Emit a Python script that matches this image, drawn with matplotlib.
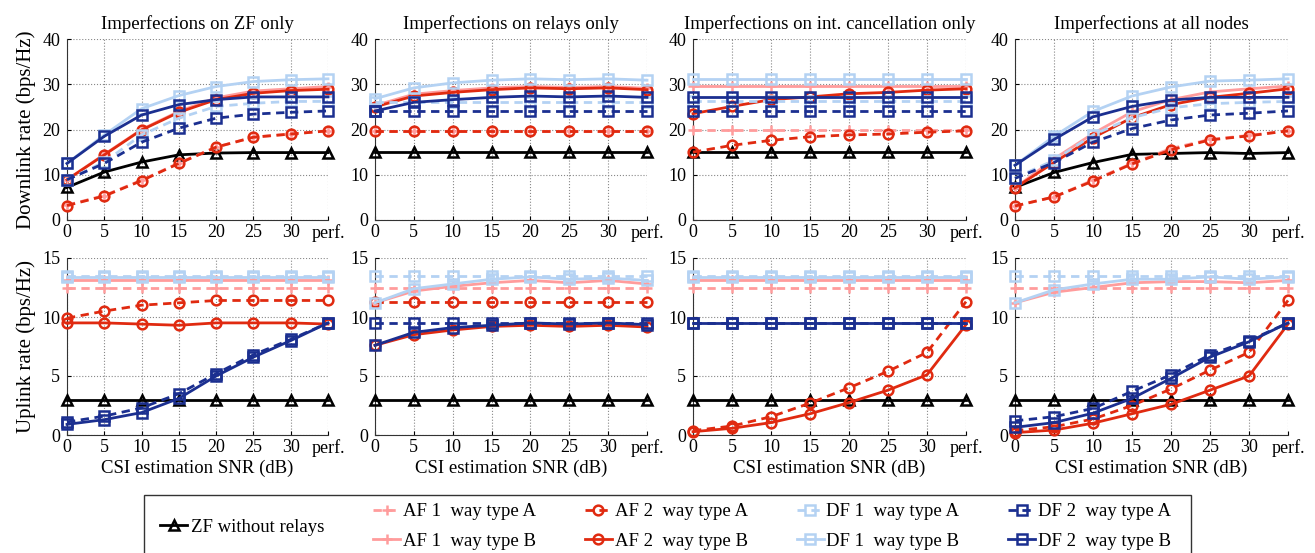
import matplotlib
matplotlib.use("Agg")
import matplotlib.pyplot as plt
from matplotlib.patches import Rectangle

plt.rcParams['font.family'] = ['Liberation Serif', 'DejaVu Serif']

# --- data ---
x_labels = ['0', '5', '10', '15', '20', '25', '30', 'perf.']
titles = ['Imperfections on ZF only', 'Imperfections on relays only',
          'Imperfections on int. cancellation only', 'Imperfections at all nodes']

# downlink (bps/Hz)
dl_zf_only = {
    'ZF':   [7.2, 10.6, 12.8, 14.4, 14.8, 14.9, 14.9, 14.9],
    'AF1A': [3.3, 5.4, 8.8, 12.6, 16.1, 18.3, 19.0, 19.7],
    'AF1B': [8.9, 14.5, 20.0, 24.0, 27.0, 28.5, 29.0, 29.5],
    'AF2A': [3.2, 5.3, 8.7, 12.5, 16.1, 18.3, 19.0, 19.7],
    'AF2B': [8.9, 14.4, 19.9, 23.8, 26.6, 28.0, 28.6, 28.9],
    'DF1A': [8.9, 12.8, 18.8, 22.5, 25.1, 25.8, 26.2, 26.2],
    'DF1B': [12.5, 18.8, 24.6, 27.5, 29.5, 30.6, 31.0, 31.2],
    'DF2A': [8.9, 12.5, 17.2, 20.3, 22.5, 23.4, 23.8, 24.1],
    'DF2B': [12.5, 18.5, 23.2, 25.5, 26.6, 27.2, 27.2, 27.2],
}
dl_relays_only = {
    'ZF':   [15.0] * 8,
    'AF1A': [19.7] * 8,
    'AF1B': [25.3, 27.8, 28.6, 29.2, 29.5, 29.3, 29.5, 29.1],
    'AF2A': [19.7] * 8,
    'AF2B': [25.0, 27.4, 28.2, 28.8, 29.2, 29.0, 29.2, 28.8],
    'DF1A': [26.1] * 8,
    'DF1B': [26.8, 29.2, 30.3, 30.9, 31.2, 31.0, 31.2, 30.9],
    'DF2A': [24.0] * 8,
    'DF2B': [24.1, 26.0, 26.6, 27.1, 27.4, 27.2, 27.4, 27.1],
}
dl_ic_only = {
    'ZF':   [15.0] * 8,
    'AF1A': [19.9] * 8,
    'AF1B': [29.6] * 8,
    'AF2A': [15.0, 16.5, 17.6, 18.4, 18.8, 19.0, 19.4, 19.7],
    'AF2B': [23.5, 25.1, 26.6, 27.2, 27.9, 28.2, 28.7, 29.0],
    'DF1A': [26.4] * 8,
    'DF1B': [31.2] * 8,
    'DF2A': [24.1] * 8,
    'DF2B': [27.2] * 8,
}
dl_all = {
    'ZF':   [7.2, 10.5, 12.7, 14.5, 14.7, 14.9, 14.7, 14.9],
    'AF1A': [3.1, 5.1, 8.8, 12.5, 15.8, 17.8, 18.7, 19.7],
    'AF1B': [7.1, 13.5, 19.1, 23.9, 26.6, 28.3, 29.0, 29.6],
    'AF2A': [3.1, 5.1, 8.6, 12.4, 15.5, 17.7, 18.6, 19.7],
    'AF2B': [7.1, 12.7, 18.2, 22.6, 25.5, 27.1, 28.0, 29.0],
    'DF1A': [9.3, 13.2, 18.8, 22.6, 24.8, 25.7, 26.0, 26.2],
    'DF1B': [12.1, 18.5, 24.0, 27.4, 29.4, 30.7, 30.9, 31.2],
    'DF2A': [9.2, 12.7, 17.2, 20.2, 22.1, 23.2, 23.6, 24.1],
    'DF2B': [12.1, 17.8, 22.8, 25.1, 26.5, 27.1, 27.1, 27.1],
}

# uplink (bps/Hz)
ul_zf_only = {
    'ZF':   [3.0] * 8,
    'AF1A': [12.5] * 8,
    'AF1B': [13.1] * 8,
    'AF2A': [9.9, 10.5, 11.0, 11.2, 11.4, 11.4, 11.4, 11.4],
    'AF2B': [9.5, 9.5, 9.4, 9.3, 9.5, 9.5, 9.5, 9.4],
    'DF1A': [13.5] * 8,
    'DF1B': [13.35] * 8,
    'DF2A': [1.1, 1.6, 2.3, 3.5, 5.2, 6.8, 8.1, 9.5],
    'DF2B': [0.9, 1.3, 1.9, 3.1, 5.0, 6.6, 8.0, 9.5],
}
ul_relays_only = {
    'ZF':   [3.0] * 8,
    'AF1A': [12.5] * 8,
    'AF1B': [11.2, 12.2, 12.6, 12.9, 13.1, 12.9, 13.1, 12.8],
    'AF2A': [11.25] * 8,
    'AF2B': [7.6, 8.5, 8.9, 9.2, 9.3, 9.2, 9.3, 9.15],
    'DF1A': [13.5] * 8,
    'DF1B': [11.2, 12.4, 12.8, 13.2, 13.4, 13.2, 13.3, 13.1],
    'DF2A': [9.45] * 8,
    'DF2B': [7.6, 8.7, 9.1, 9.3, 9.5, 9.4, 9.5, 9.35],
}
ul_ic_only = {
    'ZF':   [3.0] * 8,
    'AF1A': [12.5] * 8,
    'AF1B': [13.1] * 8,
    'AF2A': [0.37, 0.76, 1.55, 2.7, 4.0, 5.4, 7.0, 11.3],
    'AF2B': [0.28, 0.57, 1.05, 1.8, 2.75, 3.8, 5.1, 9.35],
    'DF1A': [13.5] * 8,
    'DF1B': [13.35] * 8,
    'DF2A': [9.5] * 8,
    'DF2B': [9.45] * 8,
}
ul_all = {
    'ZF':   [3.0] * 8,
    'AF1A': [12.5] * 8,
    'AF1B': [11.2, 12.1, 12.5, 12.9, 13.0, 13.0, 12.9, 13.1],
    'AF2A': [0.37, 0.7, 1.35, 2.5, 3.9, 5.5, 7.0, 11.4],
    'AF2B': [0.2, 0.42, 1.0, 1.8, 2.6, 3.8, 5.0, 9.4],
    'DF1A': [13.5] * 8,
    'DF1B': [11.2, 12.3, 12.8, 13.2, 13.2, 13.4, 13.2, 13.4],
    'DF2A': [1.2, 1.55, 2.25, 3.7, 5.1, 6.8, 8.0, 9.5],
    'DF2B': [0.65, 1.05, 1.85, 3.1, 4.8, 6.6, 7.9, 9.5],
}

downlink = [dl_zf_only, dl_relays_only, dl_ic_only, dl_all]
uplink = [ul_zf_only, ul_relays_only, ul_ic_only, ul_all]

# --- styles ---
PINK, RED, LBLUE, NAVY = '#ff9c9c', '#e02a10', '#b4d2f3', '#1b2f90'
styles = {
    'ZF':   dict(color='black', ls='-', marker='^', label='ZF without relays'),
    'AF1A': dict(color=PINK, ls='--', marker='+', label='AF 1  way type A'),
    'AF1B': dict(color=PINK, ls='-', marker='+', label='AF 1  way type B'),
    'AF2A': dict(color=RED, ls='--', marker='o', label='AF 2  way type A'),
    'AF2B': dict(color=RED, ls='-', marker='o', label='AF 2  way type B'),
    'DF1A': dict(color=LBLUE, ls='--', marker='s', label='DF 1  way type A'),
    'DF1B': dict(color=LBLUE, ls='-', marker='s', label='DF 1  way type B'),
    'DF2A': dict(color=NAVY, ls='--', marker='s', label='DF 2  way type A'),
    'DF2B': dict(color=NAVY, ls='-', marker='s', label='DF 2  way type B'),
}
order = ['ZF', 'AF1A', 'AF1B', 'AF2A', 'AF2B', 'DF1A', 'DF1B', 'DF2A', 'DF2B']

W, H = 1315, 553
fig = plt.figure(figsize=(W / 100, H / 100), dpi=100)

col_left = [67, 375, 693, 1015]
col_width = [261, 272, 273, 273]
rows = [(220, 181, 40, [0, 10, 20, 30, 40], downlink, 'Downlink rate (bps/Hz)'),
        (435, 177, 15, [0, 5, 10, 15], uplink, 'Uplink rate (bps/Hz)')]

handles = {}
for r, (bot, hgt, ymax, yticks, panels, ylabel) in enumerate(rows):
    for c in range(4):
        ax = fig.add_axes([col_left[c] / W, (H - bot) / H, col_width[c] / W, hgt / H])
        xs = list(range(len(x_labels)))
        for key in order:
            st = styles[key]
            ln, = ax.plot(xs, panels[c][key], color=st['color'], ls=st['ls'],
                          marker=st['marker'], lw=2.0, ms=7, mew=1.8,
                          mfc='none', dashes=(3, 2) if st['ls'] == '--' else (None, None),
                          label=st['label'], clip_on=False, zorder=3)
            handles[key] = ln
        ax.set_xlim(0, 7)
        ax.set_ylim(0, ymax)
        ax.set_xticks(xs)
        ax.set_xticklabels(x_labels)
        ax.set_yticks(yticks)
        ax.tick_params(direction='in', labelsize=13, length=3)
        ax.tick_params(axis='x', pad=3)
        ax.tick_params(axis='y', pad=5)
        ax.grid(True, ls=':', color='#888888', lw=0.8)
        ax.spines['top'].set_visible(False)
        ax.spines['right'].set_visible(False)
        ax.spines['left'].set_color('#333333')
        ax.spines['bottom'].set_color('#333333')
        if r == 0:
            ax.set_title(titles[c], fontsize=13.5, pad=7)
        else:
            ax.set_xlabel('CSI estimation SNR (dB)', fontsize=13.5, labelpad=2)
        if c == 0:
            ax.set_ylabel(ylabel, fontsize=15, labelpad=4)

# legend box
fig.add_artist(Rectangle((144 / W, -0.2), (1191 - 144) / W, (H - 495) / H + 0.2,
                         transform=fig.transFigure, fill=False, lw=1.0, ec='#333333'))
fig.legend([handles['ZF']], [styles['ZF']['label']], loc='center left',
           bbox_to_anchor=(160 / W, (H - 527) / H), frameon=False,
           fontsize=13.5, handlelength=1.45, handletextpad=0.2,
           borderaxespad=0, borderpad=0)
fig.legend([handles[k] for k in order[1:]], [styles[k]['label'] for k in order[1:]],
           loc='center left', bbox_to_anchor=(373 / W, (H - 526.5) / H), ncol=4,
           frameon=False, fontsize=13.5, handlelength=1.45, handletextpad=0.15,
           columnspacing=2.6, labelspacing=0.65, borderaxespad=0, borderpad=0)

fig.savefig('out.png', dpi=100)
